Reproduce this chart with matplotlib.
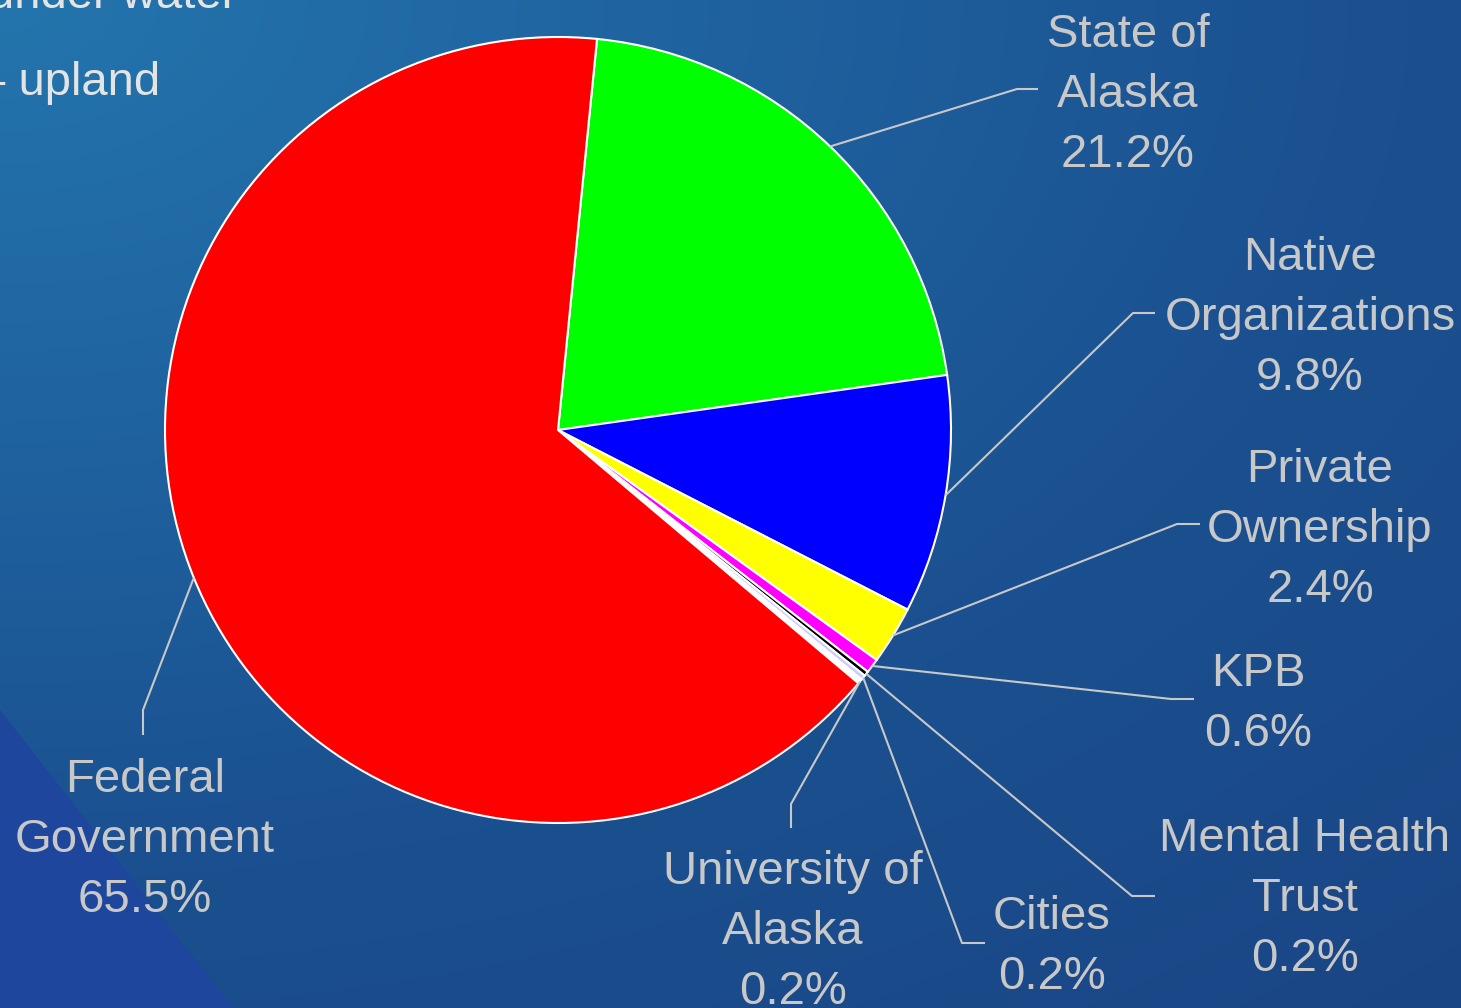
import matplotlib
matplotlib.use('Agg')
import matplotlib.pyplot as plt
import numpy as np
from matplotlib.colors import LinearSegmentedColormap
from matplotlib.patches import Polygon

plt.rcParams['font.family'] = ['Liberation Sans', 'DejaVu Sans']

# land ownership shares (percent)
owners = ['State of\nAlaska', 'Native\nOrganizations', 'Private\nOwnership', 'KPB',
          'Mental Health\nTrust', 'Cities', 'University of\nAlaska', 'Federal\nGovernment']
shares = [21.2, 9.8, 2.4, 0.6, 0.2, 0.2, 0.2, 65.5]
slice_colors = ['#00ff00', '#0000ff', '#ffff00', '#ff00ff', '#000000', '#ccccff', '#ffffff', '#ff0000']

W, H = 1461, 1008
label_col = '#c8c8c8'

# label placement in pixels (y measured from the top):
# text centre x, first baseline, elbow point, end of leader
label_pos = [
    (1128, 47, (1017, 89), (1038, 89)),
    (1310, 270, (1133, 313), (1155, 313)),
    (1320, 482, (1177, 524), (1200, 524)),
    (1258, 686, (1171, 699), (1194, 699)),
    (1305, 851, (1132, 896), (1155, 896)),
    (1052, 929, (962, 943), (985, 943)),
    (793, 884, (791, 804), (791, 828)),
    (145, 792, (143, 710), (143, 735)),
]


def flip(p):
    return p[0], H - p[1]


fig = plt.figure(figsize=(W / 100, H / 100), dpi=100)
ax = fig.add_axes([0, 0, 1, 1])

# background gradient
yy, xx = np.mgrid[0:H, 0:W]
d = np.sqrt((xx / 1.6) ** 2 + yy ** 2) / 1400.0
bg_cmap = LinearSegmentedColormap.from_list(
    'bg', [(0, '#2475ad'), (0.3, '#1f63a0'), (0.6, '#1b5190'), (1.0, '#1a4484')])
ax.imshow(np.clip(d, 0, 1), cmap=bg_cmap, vmin=0, vmax=1, extent=(0, W, 0, H),
          origin='upper', aspect='auto', zorder=0)
ax.add_patch(Polygon([flip((0, 710)), flip((0, 1008)), flip((233, 1008))],
                     closed=True, facecolor='#1e469c', edgecolor='none', zorder=0.5))

cx, cy = 558, H - 430
r = 393
wedges, _ = ax.pie(shares, colors=slice_colors, startangle=84.3, counterclock=False,
                   center=(cx, cy), radius=r,
                   wedgeprops=dict(edgecolor='white', linewidth=1.5))
for w in wedges:
    w.set_zorder(2)

for w, name, v, (tx, b0, elbow, end) in zip(wedges, owners, shares, label_pos):
    mid = np.deg2rad((w.theta1 + w.theta2) / 2)
    sx, sy = cx + r * np.cos(mid), cy + r * np.sin(mid)
    ex, ey = flip(elbow)
    fx, fy = flip(end)
    ax.plot([sx, ex, fx], [sy, ey, fy], color=label_col, lw=1.5, zorder=3,
            solid_capstyle='butt')
    lines = name.split('\n') + ['{:.1f}%'.format(v)]
    for i, line in enumerate(lines):
        ax.text(tx, H - (b0 + 60 * i), line, ha='center', va='baseline',
                fontsize=34, color=label_col, zorder=4)

# bits of slide text left over in the corner
ax.text(237, H - 8, 'under water', ha='right', va='baseline', fontsize=34, color='#e4e4e4')
ax.text(-21, H - 95, '\u2013 upland', ha='left', va='baseline', fontsize=34, color='#e4e4e4')

ax.set_xlim(0, W)
ax.set_ylim(0, H)
ax.set_aspect('auto')
ax.axis('off')

fig.savefig('out.png', dpi=100)
